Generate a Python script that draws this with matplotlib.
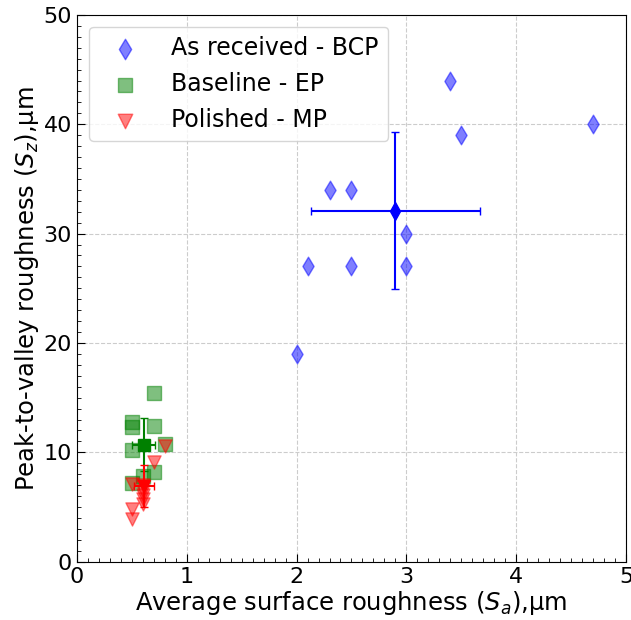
import matplotlib
matplotlib.use("Agg")
import matplotlib.pyplot as plt
from matplotlib.ticker import MultipleLocator

# As received - BCP
BCP_SA = [2.0, 2.1, 2.3, 2.5, 2.5, 3.0, 3.0, 3.4, 3.5, 4.7]
BCP_SZ = [19, 27, 34, 34, 27, 30, 27, 44, 39, 40]
BCP_MEAN = (2.9, 32.1)
BCP_STD = (0.77, 7.15)

# Baseline - EP
EP_SA = [0.7, 0.5, 0.5, 0.7, 0.5, 0.8, 0.7, 0.6, 0.5]
EP_SZ = [15.4, 12.8, 12.3, 12.4, 10.2, 10.8, 8.2, 7.8, 7.2]
EP_MEAN = (0.61, 10.7)
EP_STD = (0.105, 2.4)

# Polished - MP
MP_SA = [0.8, 0.7, 0.5, 0.6, 0.6, 0.6, 0.6, 0.6, 0.5, 0.5]
MP_SZ = [10.6, 9.1, 7.1, 7.0, 6.5, 6.1, 5.7, 5.3, 4.8, 3.9]
MP_MEAN = (0.61, 6.9)
MP_STD = (0.095, 1.9)

fig = plt.figure(figsize=(6.31, 6.2), dpi=100)
ax = fig.add_axes([0.122, 0.094, 0.870, 0.882])

ax.scatter(BCP_SA, BCP_SZ, marker="d", s=90, color="blue", alpha=0.5, label="As received - BCP", zorder=3)
ax.scatter(EP_SA, EP_SZ, marker="s", s=90, color="green", alpha=0.5, label="Baseline - EP", zorder=3)
ax.scatter(MP_SA, MP_SZ, marker="v", s=90, color="red", alpha=0.5, label="Polished - MP", zorder=3)

for mean, std, color, marker in [
    (BCP_MEAN, BCP_STD, "blue", "d"),
    (EP_MEAN, EP_STD, "green", "s"),
    (MP_MEAN, MP_STD, "red", "v"),
]:
    ax.errorbar(mean[0], mean[1], xerr=std[0], yerr=std[1], fmt=marker, color=color,
                markersize=9, capsize=3, elinewidth=1.5, zorder=4)

ax.set_xlim(0, 5)
ax.set_ylim(0, 50)
ax.xaxis.set_major_locator(MultipleLocator(1))
ax.yaxis.set_major_locator(MultipleLocator(10))
ax.xaxis.set_minor_locator(MultipleLocator(0.1))
ax.yaxis.set_minor_locator(MultipleLocator(1))
ax.tick_params(which="both", direction="in", labelsize=16)
ax.tick_params(which="major", length=6)
ax.tick_params(which="minor", length=3)
ax.grid(True, which="major", linestyle="--", color="#cccccc", linewidth=0.8)
ax.set_axisbelow(True)

ax.set_xlabel(r"Average surface roughness ($S_a$),µm", fontsize=17.5, labelpad=2)
ax.set_ylabel(r"Peak-to-valley roughness ($S_z$),µm", fontsize=17.5, labelpad=2)
ax.legend(loc="upper left", fontsize=17, markerscale=1.1, handlelength=2.3)

fig.savefig("out.png", dpi=100)
